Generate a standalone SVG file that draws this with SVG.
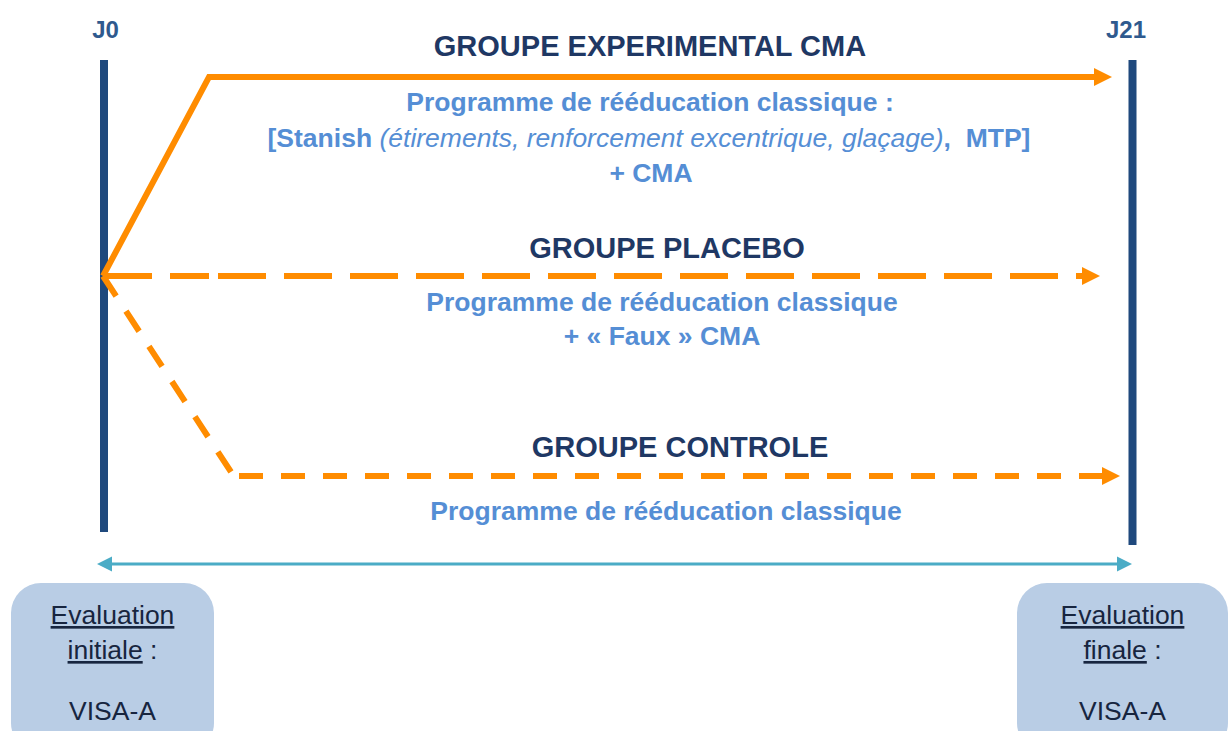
<svg xmlns="http://www.w3.org/2000/svg" width="1231" height="731" viewBox="0 0 1231 731">
<style>
text{font-family:"Liberation Sans",Arial,sans-serif;text-anchor:middle}
.j{font-size:24px;font-weight:bold;fill:#2F5A8E}
.t{font-size:29px;font-weight:bold;fill:#1F3864}
.b{font-size:26.5px;font-weight:bold;fill:#558ED5}
.i{font-weight:normal;font-style:italic}
.e{font-size:26.5px;fill:#17253F}
.u{text-decoration:underline}
.bar{stroke:#1F497D;stroke-width:8;fill:none}
.or{stroke:#FF8C00;stroke-width:6;fill:none}
.tl{stroke:#4BACC6;stroke-width:3;fill:none}
.box{fill:#B9CDE5}
</style>
<defs>
<marker id="ao" markerUnits="userSpaceOnUse" markerWidth="18" markerHeight="18" refX="0" refY="9" orient="auto" overflow="visible">
<path d="M0,0 L18,9 L0,18 Z" fill="#FF8C00"/>
</marker>
<marker id="at" markerUnits="userSpaceOnUse" markerWidth="15" markerHeight="15" refX="0" refY="7.5" orient="auto-start-reverse" overflow="visible">
<path d="M0,0 L15,7.5 L0,15 Z" fill="#4BACC6"/>
</marker>
</defs>

<g id="timeline-j0">
<rect x="100" y="60" width="8" height="472" fill="#1F497D"/>
<text class="j" x="105.5" y="38">J0</text>
</g>
<g id="timeline-j21">
<rect x="1128.5" y="60" width="8" height="485" fill="#1F497D"/>
<text class="j" x="1126" y="38">J21</text>
</g>

<g id="connectors">
<path class="or" d="M103,276 L209,77 L1094,77" marker-end="url(#ao)"/>
<path class="or" d="M103,276 H209" stroke-dasharray="49 18 39 100"/>
<path class="or" d="M218,276 H1082" stroke-dasharray="48 18" marker-end="url(#ao)"/>
<path class="or" d="M103,276 L233,475" stroke-dasharray="24 18"/>
<path class="or" d="M239,476 H1102" stroke-dasharray="24 18" marker-end="url(#ao)"/>
<path class="tl" d="M112,564 H1117" marker-start="url(#at)" marker-end="url(#at)"/>
</g>

<g id="groupe-experimental">
<text class="t" x="650" y="56">GROUPE EXPERIMENTAL CMA</text>
<text class="b" x="650" y="111">Programme de rééducation classique :</text>
<text class="b" x="649" y="147" xml:space="preserve">[Stanish <tspan class="i">(étirements, renforcement excentrique, glaçage)</tspan>,  MTP]</text>
<text class="b" x="651" y="182">+ CMA</text>
</g>

<g id="groupe-placebo">
<text class="t" x="667" y="258">GROUPE PLACEBO</text>
<text class="b" x="662" y="311">Programme de rééducation classique</text>
<text class="b" x="662" y="345">+ « Faux » CMA</text>
</g>

<g id="groupe-controle">
<text class="t" x="680" y="457">GROUPE CONTROLE</text>
<text class="b" x="666" y="520">Programme de rééducation classique</text>
</g>

<g id="evaluation-initiale">
<rect class="box" x="11" y="583" width="203" height="170" rx="30"/>
<text class="e" x="112.5" y="624"><tspan class="u">Evaluation</tspan></text>
<text class="e" x="112.5" y="659" xml:space="preserve"><tspan class="u">initiale</tspan> :</text>
<text class="e" x="112.5" y="720">VISA-A</text>
</g>

<g id="evaluation-finale">
<rect class="box" x="1017" y="583" width="211" height="170" rx="30"/>
<text class="e" x="1122.5" y="624"><tspan class="u">Evaluation</tspan></text>
<text class="e" x="1122.5" y="659" xml:space="preserve"><tspan class="u">finale</tspan> :</text>
<text class="e" x="1122.5" y="720">VISA-A</text>
</g>
</svg>
